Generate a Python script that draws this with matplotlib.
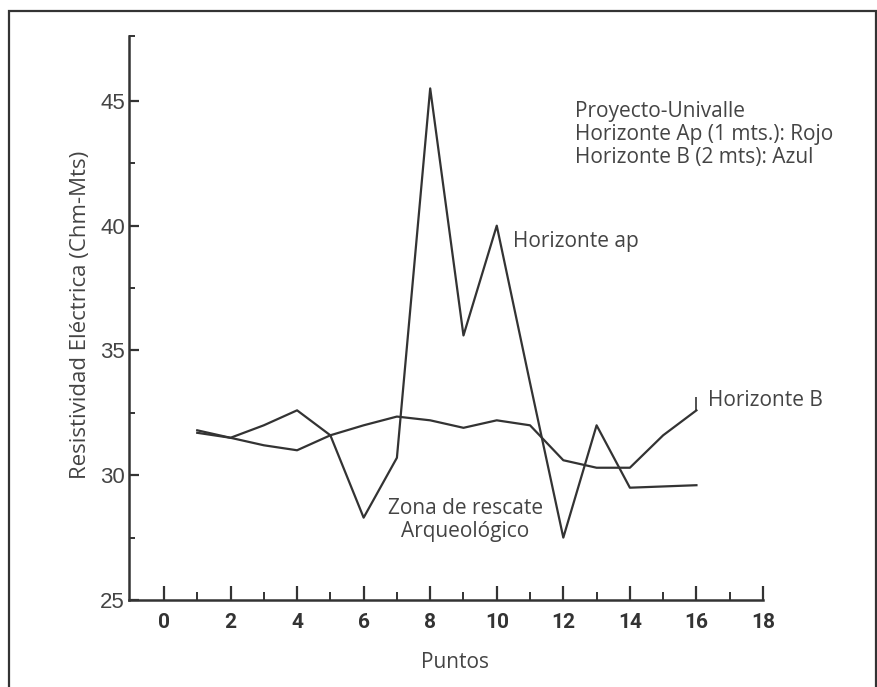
import matplotlib
matplotlib.use("Agg")
import matplotlib.pyplot as plt
import matplotlib.patches as patches
from matplotlib.ticker import FixedLocator

# Datos
puntos = [1, 2, 3, 4, 5, 6, 7, 8, 9, 10, 11, 12, 13, 14, 15, 16]
horizonte_ap = [31.8, 31.5, 32.0, 32.6, 31.6, 28.3, 30.7, 45.5, 35.6, 40.0,
                33.7, 27.5, 32.0, 29.5, 29.55, 29.6]
horizonte_b = [31.7, 31.5, 31.2, 31.0, 31.6, 32.0, 32.35, 32.2, 31.9, 32.2,
               32.0, 30.6, 30.3, 30.3, 31.6, 32.6]

x_ticks = [0, 2, 4, 6, 8, 10, 12, 14, 16, 18]
y_ticks = [25, 30, 35, 40, 45]
y_minor = [27.5, 32.5, 37.5, 42.5, 47.6]

ink = "#333333"
txt = "#444444"
fuente = "Open Sans"


def main():
    fig = plt.figure(figsize=(8.78, 6.87), dpi=100)
    fig.patch.set_facecolor("white")

    ax = fig.add_axes([129 / 878, 1 - 600 / 687, (763 - 129) / 878, (600 - 36) / 687])

    # =========================
    # Series
    # =========================
    ax.plot(puntos, horizonte_ap, color=ink, lw=1.6)
    ax.plot(puntos, horizonte_b, color=ink, lw=1.6)

    ax.set_xlim(-1.05, 18)
    ax.set_ylim(25, 47.6)

    # =========================
    # Ejes
    # =========================
    for s in ["top", "right"]:
        ax.spines[s].set_visible(False)
    for s in ["left", "bottom"]:
        ax.spines[s].set_linewidth(1.8)
        ax.spines[s].set_color(ink)

    ax.set_xticks(x_ticks)
    ax.xaxis.set_minor_locator(FixedLocator(list(range(1, 18, 2))))
    ax.set_yticks(y_ticks)
    ax.yaxis.set_minor_locator(FixedLocator(y_minor))

    ax.tick_params(axis="x", which="major", direction="in", length=10, width=1.6,
                   color=ink, pad=9)
    ax.tick_params(axis="x", which="minor", direction="in", length=6, width=1.4,
                   color=ink)
    ax.tick_params(axis="y", which="major", direction="in", length=7, width=1.6,
                   color=ink, pad=3)
    ax.tick_params(axis="y", which="minor", direction="in", length=4, width=1.4,
                   color=ink)

    for lab in ax.get_xticklabels():
        lab.set_family(["Roboto", "DejaVu Sans"])
        lab.set_fontsize(15)
        lab.set_fontweight("bold")
        lab.set_color(ink)
    for lab in ax.get_yticklabels():
        lab.set_family(["Liberation Sans", "DejaVu Sans"])
        lab.set_fontsize(16)
        lab.set_color(txt)

    ax.set_xlabel("Puntos", fontsize=15, family=fuente, color=txt)
    ax.xaxis.set_label_coords(0.514, -0.092)
    ax.xaxis.label.set_va("top")
    ax.set_ylabel("Resistividad Eléctrica (Chm-Mts)", fontsize=16, family=fuente,
                  color=txt)
    ax.yaxis.set_label_coords(-0.06, 0.505)

    # =========================
    # Anotaciones
    # =========================
    ax.text(12.35, 43.65, "Proyecto-Univalle\nHorizonte Ap (1 mts.): Rojo\nHorizonte B (2 mts): Azul",
            fontsize=15, family=fuente, color=txt, va="center", ha="left",
            linespacing=1.12)
    ax.text(10.5, 39.35, "Horizonte ap", fontsize=15, family=fuente, color=txt,
            va="center", ha="left")
    ax.text(9.05, 28.2, "Zona de rescate\nArqueológico", fontsize=15, family=fuente,
            color=txt, va="center", ha="center", linespacing=1.15)
    ax.vlines(puntos[-1], horizonte_b[-1], horizonte_b[-1] + 0.55, color=ink, lw=1.2)
    ax.text(puntos[-1] + 0.35, horizonte_b[-1] + 0.4, "Horizonte B", fontsize=15,
            family=fuente, color=txt, va="center", ha="left")

    # marco exterior
    frame = patches.Rectangle((9 / 878, -0.05), (876 - 9) / 878, 1.05 - 11 / 687,
                              transform=fig.transFigure, fill=False, lw=1.6,
                              edgecolor=ink, clip_on=False)
    fig.patches.append(frame)

    fig.savefig("out.png", dpi=100, facecolor="white")
    plt.close(fig)


if __name__ == "__main__":
    main()
